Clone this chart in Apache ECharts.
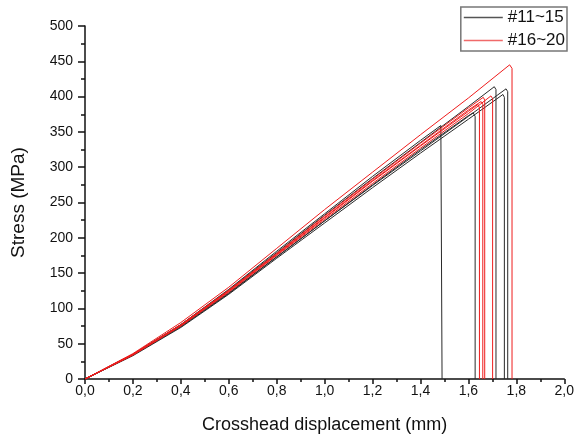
<!DOCTYPE html>
<html>
<head>
<meta charset="utf-8">
<script src="https://cdn.jsdelivr.net/npm/echarts@6/dist/echarts.min.js"></script>
<style>
html,body{margin:0;padding:0;background:#fff;}
#chart{width:577px;height:439px;}
</style>
</head>
<body>
<div id="chart"></div>
<script>
// Specimens #11~15 (black) : [displacement mm, stress MPa]
const s11 = [[0,0],[0.2,35],[0.4,77],[0.6,127],[0.8,181],[1.0,234],[1.2,287],[1.4,338],[1.485,359],[1.49,0]];
const s12 = [[0,0],[0.2,34],[0.4,75],[0.6,122],[0.8,173],[1.0,224],[1.2,275],[1.4,325],[1.6,373],[1.62,377],[1.628,372],[1.628,0]];
const s13 = [[0,0],[0.2,35],[0.4,77],[0.6,126],[0.8,179],[1.0,232],[1.2,284],[1.4,335],[1.6,386],[1.708,414],[1.715,410],[1.715,0]];
const s14 = [[0,0],[0.2,33],[0.4,73],[0.6,120],[0.8,171],[1.0,221],[1.2,271],[1.4,320],[1.6,368],[1.744,403],[1.75,399],[1.75,0]];
const s15 = [[0,0],[0.2,34],[0.4,74],[0.6,121],[0.8,173],[1.0,224],[1.2,274],[1.4,323],[1.6,372],[1.757,411],[1.764,407],[1.764,0]];
// Specimens #16~20 (red)
const s16 = [[0,0],[0.2,36],[0.4,80],[0.6,130],[0.8,185],[1.0,240],[1.2,293],[1.4,346],[1.6,398],[1.772,445],[1.782,440],[1.782,0]];
const s17 = [[0,0],[0.2,35],[0.4,76],[0.6,124],[0.8,176],[1.0,228],[1.2,280],[1.4,330],[1.6,379],[1.64,389],[1.646,384],[1.646,0]];
const s18 = [[0,0],[0.2,34],[0.4,76],[0.6,125],[0.8,177],[1.0,229],[1.2,281],[1.4,331],[1.6,381],[1.653,393],[1.66,389],[1.66,0]];
const s19 = [[0,0],[0.2,34],[0.4,75],[0.6,123],[0.8,175],[1.0,226],[1.2,277],[1.4,327],[1.6,376],[1.694,401],[1.701,397],[1.701,0]];
const s20 = [[0,0],[0.2,35],[0.4,77],[0.6,126],[0.8,178],[1.0,231],[1.2,283],[1.4,334],[1.6,384],[1.662,399],[1.668,395],[1.668,0]];

const groupNames = ['#11~15', '#16~20'];
const blackSet = [s11, s12, s13, s14, s15];
const redSet = [s16, s17, s18, s19, s20];

const FONT = '"Liberation Sans", Arial, sans-serif';
const BLACK = '#2a2a2a', RED = '#ee1c1c';
const series = [];
blackSet.forEach(d => series.push({
  name: groupNames[0], type: 'line', data: d, symbol: 'none', silent: true,
  lineStyle: { color: BLACK, width: 1 }, itemStyle: { color: BLACK }, animation: false
}));
redSet.forEach(d => series.push({
  name: groupNames[1], type: 'line', data: d, symbol: 'none', silent: true,
  lineStyle: { color: RED, width: 1 }, itemStyle: { color: RED }, animation: false
}));

const chart = echarts.init(document.getElementById('chart'), null, { renderer: 'canvas' });
chart.setOption({
  backgroundColor: '#fff',
  animation: false,
  textStyle: { fontFamily: FONT },
  grid: { left: 85, right: 11, top: 26, bottom: 57, containLabel: false },
  legend: {
    data: [
      { name: groupNames[0], icon: 'rect', itemStyle: { color: '#555' } },
      { name: groupNames[1], icon: 'rect', itemStyle: { color: '#f06a6a' } }
    ],
    orient: 'vertical',
    right: 10, top: 7,
    padding: [1, 2, 1, 3],
    itemGap: 4,
    itemWidth: 39, itemHeight: 1.5,
    borderColor: '#777', borderWidth: 1.5, borderRadius: 0,
    textStyle: { fontFamily: FONT, fontSize: 17, color: '#111', lineHeight: 19 }
  },
  xAxis: {
    type: 'value', min: 0, max: 2, interval: 0.2,
    name: 'Crosshead displacement (mm)', nameLocation: 'middle', nameGap: 37,
    nameTextStyle: { fontFamily: FONT, fontSize: 18, color: '#111' },
    axisLine: { show: true, onZero: false, lineStyle: { color: '#111', width: 1.5 } },
    axisTick: { show: true, inside: false, length: 5, lineStyle: { color: '#111', width: 1.5 } },
    minorTick: { show: true, splitNumber: 2, length: 3, lineStyle: { color: '#111', width: 1.5 } },
    axisLabel: { margin: 5, fontFamily: FONT, fontSize: 14, color: '#111',
      formatter: v => v.toFixed(1).replace('.', ',') },
    splitLine: { show: false }
  },
  yAxis: {
    type: 'value', min: 0, max: 500, interval: 50,
    name: 'Stress (MPa)', nameLocation: 'middle', nameGap: 57,
    nameTextStyle: { fontFamily: FONT, fontSize: 19, color: '#111' },
    axisLine: { show: true, onZero: false, lineStyle: { color: '#111', width: 1.5 } },
    axisTick: { show: true, inside: false, length: 7, lineStyle: { color: '#111', width: 1.5 } },
    minorTick: { show: true, splitNumber: 2, length: 4, lineStyle: { color: '#111', width: 1.5 } },
    axisLabel: { margin: 12, fontFamily: FONT, fontSize: 14, color: '#111' },
    splitLine: { show: false }
  },
  series: series
});
</script>
</body>
</html>
